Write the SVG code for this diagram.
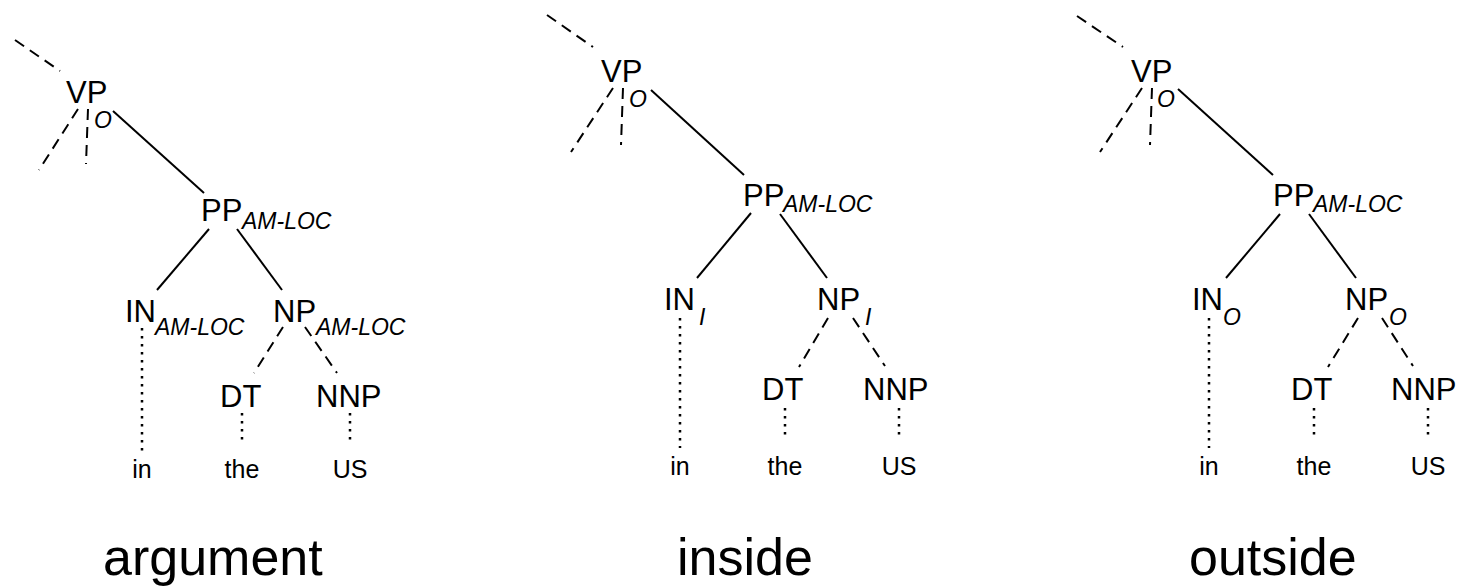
<svg xmlns="http://www.w3.org/2000/svg" width="1462" height="586" viewBox="0 0 1462 586">
<style>
text{font-family:"Liberation Sans",Arial,sans-serif;fill:#000}
.lb{font-size:31px}
.sb{font-size:23px;font-style:italic}
.so{font-size:23px;font-style:italic}
.lf{font-size:25px;text-anchor:middle}
.tt{font-size:52px}
line{stroke:#000;stroke-width:2;fill:none}
.d{stroke-dasharray:11,7}
.o{stroke-dasharray:2.5,5.5;stroke-width:2.5}
</style>
<rect width="1462" height="586" fill="#fff"/>
<g id="connectors">
<!-- panel 1 -->
<line class="d" x1="15" y1="40" x2="60" y2="71"/>
<line class="d" x1="78" y1="109" x2="39" y2="170"/>
<line class="d" x1="88" y1="109" x2="86" y2="164"/>
<line x1="113" y1="111" x2="204" y2="193"/>
<line x1="209" y1="229" x2="157" y2="290"/>
<line x1="237" y1="229" x2="282" y2="290"/>
<line class="o" x1="142" y1="328" x2="142" y2="453"/>
<line class="d" x1="283" y1="327" x2="254" y2="373"/>
<line class="d" x1="305" y1="327" x2="337" y2="373"/>
<line class="o" x1="242" y1="413" x2="242" y2="444"/>
<line class="o" x1="350" y1="413" x2="350" y2="444"/>
<!-- panel 2 -->
<line class="d" x1="547" y1="15" x2="593" y2="47"/>
<line class="d" x1="613" y1="88" x2="571" y2="152"/>
<line class="d" x1="623" y1="88" x2="621" y2="145"/>
<line x1="651" y1="90" x2="744" y2="175"/>
<line x1="751" y1="213" x2="697" y2="278"/>
<line x1="780" y1="214" x2="827" y2="278"/>
<line class="o" x1="680" y1="318" x2="680" y2="448"/>
<line class="d" x1="828" y1="318" x2="799" y2="367"/>
<line class="d" x1="853" y1="318" x2="885" y2="366"/>
<line class="o" x1="785" y1="408" x2="785" y2="439"/>
<line class="o" x1="899" y1="408" x2="899" y2="439"/>
<!-- panel 3 -->
<line class="d" x1="1077" y1="16" x2="1123" y2="47"/>
<line class="d" x1="1142" y1="88" x2="1100" y2="152"/>
<line class="d" x1="1152" y1="88" x2="1150" y2="145"/>
<line x1="1178" y1="89" x2="1273" y2="175"/>
<line x1="1280" y1="214" x2="1226" y2="278"/>
<line x1="1309" y1="214" x2="1356" y2="278"/>
<line class="o" x1="1209" y1="318" x2="1209" y2="448"/>
<line class="d" x1="1358" y1="318" x2="1328" y2="367"/>
<line class="d" x1="1382" y1="318" x2="1413" y2="366"/>
<line class="o" x1="1314" y1="408" x2="1314" y2="439"/>
<line class="o" x1="1428" y1="408" x2="1428" y2="439"/>
</g>
<!-- panel 1 nodes -->
<g id="p1-vp"><text class="lb" x="66" y="103">VP</text><text class="so" x="94" y="128">O</text></g>
<g id="p1-pp"><text class="lb" x="201" y="221">PP</text><text class="sb" x="242" y="229">AM-LOC</text></g>
<g id="p1-in"><text class="lb" x="125" y="322">IN</text><text class="sb" x="155" y="335">AM-LOC</text></g>
<g id="p1-np"><text class="lb" x="273" y="322">NP</text><text class="sb" x="316" y="335">AM-LOC</text></g>
<g id="p1-dt"><text class="lb" x="220" y="407">DT</text></g>
<g id="p1-nnp"><text class="lb" x="316" y="407">NNP</text></g>
<g id="p1-in-w"><text class="lf" x="142" y="478">in</text></g>
<g id="p1-the"><text class="lf" x="242" y="478">the</text></g>
<g id="p1-us"><text class="lf" x="350" y="478">US</text></g>
<g id="p1-title"><text class="tt" x="103" y="575">argument</text></g>
<!-- panel 2 nodes -->
<g id="p2-vp"><text class="lb" x="601" y="82">VP</text><text class="so" x="629" y="107">O</text></g>
<g id="p2-pp"><text class="lb" x="743" y="206">PP</text><text class="sb" x="783" y="212">AM-LOC</text></g>
<g id="p2-in"><text class="lb" x="664" y="310">IN</text><text class="so" x="699" y="325">I</text></g>
<g id="p2-np"><text class="lb" x="817" y="310">NP</text><text class="so" x="865" y="325">I</text></g>
<g id="p2-dt"><text class="lb" x="762" y="400">DT</text></g>
<g id="p2-nnp"><text class="lb" x="863" y="400">NNP</text></g>
<g id="p2-in-w"><text class="lf" x="680" y="475">in</text></g>
<g id="p2-the"><text class="lf" x="785" y="475">the</text></g>
<g id="p2-us"><text class="lf" x="899" y="475">US</text></g>
<g id="p2-title"><text class="tt" x="677" y="575">inside</text></g>
<!-- panel 3 nodes -->
<g id="p3-vp"><text class="lb" x="1131" y="82">VP</text><text class="so" x="1157" y="107">O</text></g>
<g id="p3-pp"><text class="lb" x="1273" y="206">PP</text><text class="sb" x="1313" y="212">AM-LOC</text></g>
<g id="p3-in"><text class="lb" x="1192" y="310">IN</text><text class="so" x="1223" y="325">O</text></g>
<g id="p3-np"><text class="lb" x="1345" y="310">NP</text><text class="so" x="1389" y="325">O</text></g>
<g id="p3-dt"><text class="lb" x="1291" y="400">DT</text></g>
<g id="p3-nnp"><text class="lb" x="1391" y="400">NNP</text></g>
<g id="p3-in-w"><text class="lf" x="1209" y="475">in</text></g>
<g id="p3-the"><text class="lf" x="1314" y="475">the</text></g>
<g id="p3-us"><text class="lf" x="1428" y="475">US</text></g>
<g id="p3-title"><text class="tt" x="1189" y="575">outside</text></g>
</svg>
